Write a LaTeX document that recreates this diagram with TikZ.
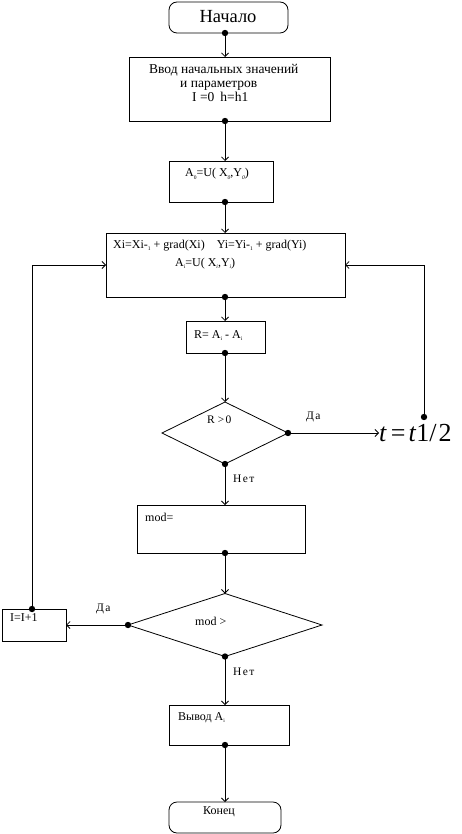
\documentclass[tikz,border=0pt]{standalone}
\usepackage{fontspec}
\setmainfont{Liberation Serif}
\usetikzlibrary{shapes.geometric,arrows.meta}
\newcommand{\sbx}[1]{\raisebox{-2.5pt}{\fontsize{5.5}{5.5}\selectfont #1}}
\tikzset{
  box/.style={draw, line width=0.8pt, inner sep=0pt, outer sep=0pt, anchor=north west},
  rbox/.style={box, rounded corners=8pt},
  dia/.style={draw, diamond, line width=0.8pt, inner sep=0pt, outer sep=0pt},
  txt/.style={inner sep=0pt, anchor=base west, font=\fontsize{12}{14}\selectfont},
  lbl/.style={inner sep=0pt, anchor=base west, font=\fontsize{11.5}{14}\selectfont\addfontfeatures{LetterSpace=12}},
  conn/.style={draw, line width=0.8pt, -{Straight Barb[length=3.5pt,width=7pt]}},
  dotm/.style={fill=black},
}
\begin{document}
\begin{tikzpicture}[x=1pt,y=-1pt]
\useasboundingbox (0,0) rectangle (461,834);
\coordinate (c) at (225,0);
% boxes
\node[rbox, minimum width=119pt, minimum height=31pt] (start) at (169,2) {};
\node[font=\fontsize{18.5}{20}\selectfont, inner sep=0pt] (starttxt) at (228,17) {Начало};
\node[box, minimum width=201pt, minimum height=64pt] (input) at (129,57) {};
\node[txt, font=\fontsize{13.5}{15}\selectfont] (in1) at (149,74) {Ввод начальных значений};
\node[txt, font=\fontsize{13.5}{15}\selectfont] (in2) at (180,88) {и параметров};
\node[txt, font=\fontsize{13.5}{15}\selectfont] (in3) at (192,102) {I =0\hspace{6pt}h=h1};
\node[box, minimum width=104pt, minimum height=41pt] (a0) at (169,161) {};
\node[txt] (a0t) at (185,177) {A\sbx{0}=U( X\sbx{\itshape 0},Y\sbx{\itshape 0})};
\node[box, minimum width=239pt, minimum height=64pt] (main) at (106,233) {};
\node[txt] (m1) at (113,248) {Xi=Xi-\sbx{1} + grad(Xi)\hspace{12pt}Yi=Yi-\sbx{1} + grad(Yi)};
\node[txt] (m2) at (175,266) {A\sbx{i}=U( X\sbx{\itshape i},Y\sbx{\itshape i})};
\node[box, minimum width=79pt, minimum height=32pt] (rbx) at (186,321) {};
\node[txt] (rt) at (194,338) {R= A\sbx{i} - A\sbx{i}};
\node[dia, minimum width=126pt, minimum height=62pt] (d1) at (225,433) {};
\node[lbl] (d1t) at (207,423) {R\hspace{3pt}>0};
\node[lbl] (yes1) at (306,419) {Да};
\node[lbl] (no1) at (233,482) {Нет};
\node[inner sep=0pt, anchor=west, font=\fontsize{26}{28}\selectfont] (tnode) at (379,433) {\textit{t}\hspace{4pt}=\hspace{3pt}\textit{t}1/\hspace{2pt}2};
\coordinate (tdot) at (424,417);
\node[box, minimum width=168pt, minimum height=48pt] (modb) at (137,505) {};
\node[txt] (modt) at (145,521) {mod=};
\node[dia, minimum width=194pt, minimum height=63pt] (d2) at (225,625) {};
\node[txt] (d2t) at (195,625) {mod >};
\node[lbl] (yes2) at (96,611) {Да};
\node[lbl] (no2) at (233,675) {Нет};
\node[box, minimum width=64pt, minimum height=32pt] (inc) at (2,609) {};
\node[txt] (inct) at (10,621) {I=I+1};
\node[box, minimum width=120pt, minimum height=40pt] (outb) at (169,705) {};
\node[txt] (outt) at (178,720) {Вывод A\sbx{i}};
\node[rbox, minimum width=112pt, minimum height=31pt] (endb) at (169,802) {};
\node[txt] (endt) at (203,814) {Конец};
% connectors
\draw[conn] (start.south -| c) -- (input.north -| c);
\draw[conn] (input.south -| c) -- (a0.north -| c);
\draw[conn] (a0.south -| c) -- (main.north -| c);
\draw[conn] (main.south -| c) -- (rbx.north -| c);
\draw[conn] (rbx.south -| c) -- (d1.north);
\draw[conn] (d1.east) -- (tnode.west);
\draw[conn] (tdot) |- (main.east);
\draw[conn] (d1.south) -- (modb.north -| c);
\draw[conn] (modb.south -| c) -- (d2.north);
\draw[conn] (d2.west) -- (inc.east);
\draw[conn] (inc.north -| 32,0) |- (main.west);
\draw[conn] (d2.south) -- (outb.north -| c);
\draw[conn] (outb.south -| c) -- (endb.north -| c);
% dots
\foreach \p in {(start.south -| c),(input.south -| c),(a0.south -| c),(main.south -| c),(rbx.south -| c),(d1.east),(tdot),(d1.south),(modb.south -| c),(d2.west),(inc.north -| 32,0),(d2.south),(outb.south -| c)}
  \fill[dotm] \p circle (3.2pt);
\end{tikzpicture}
\end{document}
